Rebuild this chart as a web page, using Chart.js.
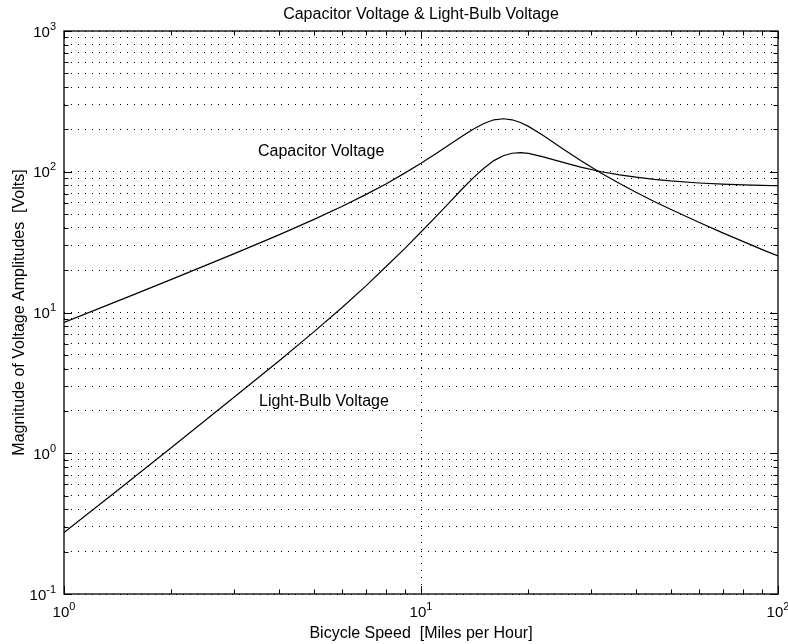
<!DOCTYPE html>
<html>
<head>
<meta charset="UTF-8">
<title>Capacitor Voltage &amp; Light-Bulb Voltage</title>
<script src="https://cdn.jsdelivr.net/npm/chart.js@4.4.0/dist/chart.umd.min.js"></script>
<style>
  html, body { margin: 0; padding: 0; background: #fff; }
  canvas { display: block; }
</style>
</head>
<body>
<canvas id="chart" width="788" height="644"></canvas>
<script>
// bicycle speed [mph] and the two voltage amplitudes [V]
const speed = [1, 1.5, 2, 3, 4, 5, 6, 7, 8, 9, 10, 11, 12, 13, 14, 15, 16, 17, 18, 19, 20,
               22, 25, 28, 32, 36, 40, 45, 50, 60, 70, 80, 90, 100];
const capacitorVolts = [8.5, 12.8, 17.2, 26.2, 35.6, 45.7, 56.6, 68.8, 82.3, 97.8, 115, 134.2, 155.5, 178.2, 200.6, 220, 234, 238, 234, 224, 210,
                        181, 145, 120, 97.6, 82.4, 71.5, 61.5, 54.1, 43.8, 36.8, 31.9, 28.1, 25.2];
const bulbVolts = [0.273, 0.615, 1.1, 2.51, 4.52, 7.25, 10.8, 15.4, 21.3, 28.4, 37.3, 47.8, 60.4, 74.8, 90.5, 106, 120, 130, 135.4, 136.6, 135,
                   127.7, 116.5, 108, 100, 95, 91.5, 88.2, 86, 83.2, 81.6, 80.6, 80, 79.5];

const xDecades = [1, 10, 100];
const xExponents = ['0', '1', '2'];
const yDecades = [0.1, 1, 10, 100, 1000];
const yExponents = ['-1', '0', '1', '2', '3'];
const xGridAt = [10];

const titleText = 'Capacitor Voltage & Light-Bulb Voltage';
const xTitle = 'Bicycle Speed  [Miles per Hour]';
const yTitle = 'Magnitude of Voltage Amplitudes  [Volts]';

const FONT = '"Liberation Sans", Arial, Helvetica, sans-serif';

function minorsOf(decades) {
  const out = [];
  for (let i = 0; i < decades.length - 1; i++)
    for (let k = 2; k <= 9; k++) out.push(+(decades[i] * k).toPrecision(3));
  return out;
}
const xMinor = minorsOf(xDecades);
const yMinor = minorsOf(yDecades);
const yGrid = yDecades.concat(yMinor).sort((a, b) => a - b);

function power(ctx, exp, x, y, align) {
  ctx.font = '15px ' + FONT;
  const wb = ctx.measureText('10').width;
  ctx.font = '11px ' + FONT;
  const we = ctx.measureText(exp).width;
  const left = align === 'right' ? x - wb - we : x - (wb + we) / 2;
  ctx.textAlign = 'left';
  ctx.font = '15px ' + FONT;
  ctx.fillText('10', left, y);
  ctx.font = '11px ' + FONT;
  ctx.fillText(exp, left + wb, y - 7);
}

const frame = {
  id: 'frame',
  afterDraw(chart) {
    const { ctx, chartArea: a, scales: { x, y } } = chart;
    ctx.save();
    ctx.strokeStyle = '#000';
    ctx.fillStyle = '#000';

    // inward tick marks on all four sides
    ctx.lineWidth = 1;
    ctx.beginPath();
    const xt = (vals, len) => vals.forEach(v => {
      const px = Math.round(x.getPixelForValue(v)) + 0.5;
      ctx.moveTo(px, a.bottom); ctx.lineTo(px, a.bottom - len);
      ctx.moveTo(px, a.top); ctx.lineTo(px, a.top + len);
    });
    const yt = (vals, len) => vals.forEach(v => {
      const py = Math.round(y.getPixelForValue(v)) + 0.5;
      ctx.moveTo(a.left, py); ctx.lineTo(a.left + len, py);
      ctx.moveTo(a.right, py); ctx.lineTo(a.right - len, py);
    });
    xt(xDecades, 8); xt(xMinor, 4.5);
    yt(yDecades, 8); yt(yMinor, 4.5);
    ctx.stroke();

    ctx.lineWidth = 1.3;
    ctx.strokeRect(a.left, a.top, a.right - a.left, a.bottom - a.top);

    // tick labels
    ctx.textBaseline = 'alphabetic';
    yDecades.forEach((v, i) => power(ctx, yExponents[i], a.left - 8, y.getPixelForValue(v) + 5.5, 'right'));
    xDecades.forEach((v, i) => power(ctx, xExponents[i], x.getPixelForValue(v), a.bottom + 23, 'center'));

    // titles
    const cx = (a.left + a.right) / 2;
    ctx.font = '16px ' + FONT;
    ctx.textAlign = 'center';
    ctx.fillText(titleText, cx, 19);
    ctx.fillText(xTitle, cx, 638);
    ctx.save();
    ctx.translate(24, (a.top + a.bottom) / 2);
    ctx.rotate(-Math.PI / 2);
    ctx.fillText(yTitle, 0, 0);
    ctx.restore();

    // curve annotations
    ctx.textAlign = 'left';
    ctx.fillText('Capacitor Voltage', 258, 156);
    ctx.fillText('Light-Bulb Voltage', 259, 406);
    ctx.restore();
  }
};

const lineStyle = {
  borderColor: '#000',
  borderWidth: 1.2,
  pointRadius: 0,
  fill: false,
  tension: 0
};

new Chart(document.getElementById('chart'), {
  type: 'line',
  data: {
    datasets: [
      Object.assign({ label: 'Capacitor Voltage', data: speed.map((s, i) => ({ x: s, y: capacitorVolts[i] })) }, lineStyle),
      Object.assign({ label: 'Light-Bulb Voltage', data: speed.map((s, i) => ({ x: s, y: bulbVolts[i] })) }, lineStyle)
    ]
  },
  options: {
    responsive: false,
    animation: false,
    layout: { padding: { left: 64, top: 31, right: 10, bottom: 50 } },
    plugins: { legend: { display: false }, tooltip: { enabled: false }, title: { display: false } },
    scales: {
      x: {
        type: 'logarithmic', min: 1, max: 100,
        ticks: { display: false, autoSkip: false },
        grid: { color: '#000', lineWidth: 1, drawTicks: false, tickLength: 0 },
        border: { display: false, dash: [1, 6] },
        afterBuildTicks: s => { s.ticks = xGridAt.map(v => ({ value: v })); },
        afterFit: s => { s.height = 0; s.paddingLeft = 0; s.paddingRight = 0; }
      },
      y: {
        type: 'logarithmic', min: 0.1, max: 1000,
        ticks: { display: false, autoSkip: false },
        grid: { color: '#000', lineWidth: 1, drawTicks: false, tickLength: 0 },
        border: { display: false, dash: [1, 6] },
        afterBuildTicks: s => { s.ticks = yGrid.map(v => ({ value: v })); },
        afterFit: s => { s.width = 0; s.paddingTop = 0; s.paddingBottom = 0; }
      }
    }
  },
  plugins: [frame]
});
</script>
</body>
</html>
